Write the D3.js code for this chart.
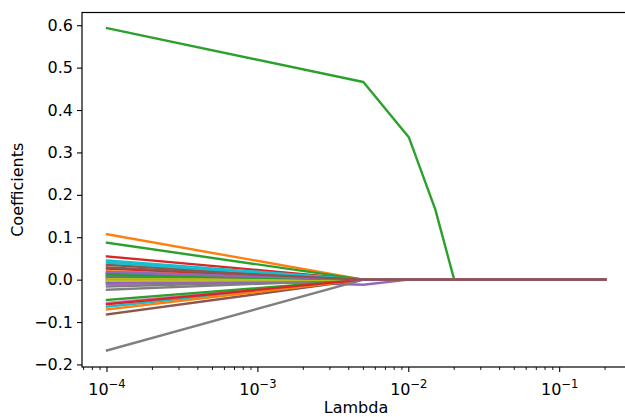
<!DOCTYPE html>
<html><head><meta charset="utf-8">
<script src="https://cdn.jsdelivr.net/npm/d3@7"></script>
<style>body{margin:0;background:#fff}svg{display:block}text{font-family:"DejaVu Sans",sans-serif}</style>
</head><body>
<svg id="c" width="625" height="417"></svg>
<script>
// Lambda values (x)
const lambdas = [0.0001, 0.005, 0.01, 0.015, 0.02, 0.2];
// Coefficients of the 36 features at each lambda
const coefAt0001 = [0.009, 0.107, 0.593, 0.055, 0.005, 0.035, -0.011, -0.016, -0.006, 0.045,
                    0.003, 0.020, 0.087, 0.026, 0.006, 0.002, -0.055, -0.024, 0.001, -0.064,
                    -0.008, -0.002, -0.048, 0.014, -0.009, -0.082, 0.013, -0.167, -0.003, 0.040,
                    0.016, -0.070, 0.011, -0.058, 0.018, 0.029];
const coefAt005  = [0, 0, 0.466, 0, -0.012, 0, 0, 0, 0, 0,
                    0, 0, 0, 0, 0, 0, 0, 0, 0, 0,
                    0, 0, 0, 0, 0, 0, 0, 0, 0, 0,
                    0, 0, 0, 0, 0, 0];
const coefAt01   = [0, 0, 0.336, 0, 0, 0, 0, 0, 0, 0,
                    0, 0, 0, 0, 0, 0, 0, 0, 0, 0,
                    0, 0, 0, 0, 0, 0, 0, 0, 0, 0,
                    0, 0, 0, 0, 0, 0];
const coefAt015  = [0, 0, 0.165, 0, 0, 0, 0, 0, 0, 0,
                    0, 0, 0, 0, 0, 0, 0, 0, 0, 0,
                    0, 0, 0, 0, 0, 0, 0, 0, 0, 0,
                    0, 0, 0, 0, 0, 0];
const coefAt02   = [0, 0, 0, 0, 0, 0, 0, 0, 0, 0,
                    0, 0, 0, 0, 0, 0, 0, 0, 0, 0,
                    0, 0, 0, 0, 0, 0, 0, 0, 0, 0,
                    0, 0, 0, 0, 0, 0];
const coefAt2    = [0, 0, 0, 0, 0, 0, 0, 0, 0, 0,
                    0, 0, 0, 0, 0, 0, 0, 0, 0, 0,
                    0, 0, 0, 0, 0, 0, 0, 0, 0, 0,
                    0, 0, 0, 0, 0, 0];
const yTicks = [-0.2, -0.1, 0.0, 0.1, 0.2, 0.3, 0.4, 0.5, 0.6];
const xTickExps = [-4, -3, -2, -1];
const colors = ["#1f77b4","#ff7f0e","#2ca02c","#d62728","#9467bd","#8c564b","#e377c2","#7f7f7f","#bcbd22","#17becf"];

const coefCols = [coefAt0001, coefAt005, coefAt01, coefAt015, coefAt02, coefAt2];
const nFeat = coefAt0001.length;
const series = d3.range(nFeat).map(i => lambdas.map((l, j) => ({x: l, y: coefCols[j][i]})));

const L = 82, R = 630, T = 12.5, B = 367;
const x = d3.scaleLog().domain([Math.pow(10, -4.1656), Math.pow(10, -0.534)]).range([L, R]);
const y = d3.scaleLinear().domain([-0.206, 0.630]).range([B, T]);

const svg = d3.select("#c");
const g = svg.append("g");

const line = d3.line().x(d => x(d.x)).y(d => y(d.y));
g.selectAll("path.s").data(series).enter().append("path")
  .attr("class", "s")
  .attr("d", line)
  .attr("fill", "none")
  .attr("stroke", (d, i) => colors[i % 10])
  .attr("stroke-width", 2.4)
  .attr("stroke-linejoin", "round")
  .attr("stroke-linecap", "square");

// spines
svg.append("rect").attr("x", L).attr("y", T).attr("width", R - L).attr("height", B - T)
  .attr("fill", "none").attr("stroke", "#000").attr("stroke-width", 1.2);

// y axis
const yAxis = d3.axisLeft(y).tickValues(yTicks).tickSize(5).tickPadding(4)
  .tickFormat(d => d3.format(".1f")(d).replace("-", "\u2212"));
const ya = svg.append("g").attr("transform", `translate(${L},0)`).call(yAxis);
ya.select(".domain").remove();
ya.selectAll("text").attr("font-size", 16).attr("font-family", "DejaVu Sans").attr("fill", "#000");
ya.selectAll("line").attr("stroke", "#000").attr("stroke-width", 1.1);

// x axis: major
const xa = svg.append("g").attr("transform", `translate(0,${B})`);
const majors = xTickExps.map(e => Math.pow(10, e));
xa.selectAll("line.maj").data(majors).enter().append("line")
  .attr("x1", d => x(d)).attr("x2", d => x(d)).attr("y1", 0).attr("y2", 5)
  .attr("stroke", "#000").attr("stroke-width", 1.1);
const minors = [];
[-5, -4, -3, -2, -1].forEach(e => { for (let k = 2; k <= 9; k++) { const v = k * Math.pow(10, e); if (x(v) >= L && x(v) <= R) minors.push(v); } });
xa.selectAll("line.min").data(minors).enter().append("line")
  .attr("x1", d => x(d)).attr("x2", d => x(d)).attr("y1", 0).attr("y2", 3)
  .attr("stroke", "#000").attr("stroke-width", 0.9);
const lab = xa.selectAll("text.t").data(xTickExps).enter().append("text")
  .attr("x", e => x(Math.pow(10, e)) ).attr("y", 28)
  .attr("text-anchor", "middle").attr("font-size", 16).attr("fill", "#000");
lab.append("tspan").text("10");
lab.append("tspan").attr("font-size", 11.5).attr("dy", -7).text(e => "\u2212" + Math.abs(e));

svg.append("text").attr("x", (L + 624) / 2 + 3).attr("y", 413).attr("text-anchor", "middle")
  .attr("font-size", 16).attr("fill", "#000").text("Lambda");
svg.append("text").attr("transform", `translate(23,${(T + B) / 2}) rotate(-90)`).attr("text-anchor", "middle")
  .attr("font-size", 16).attr("fill", "#000").text("Coefficients");
</script>
</body></html>
